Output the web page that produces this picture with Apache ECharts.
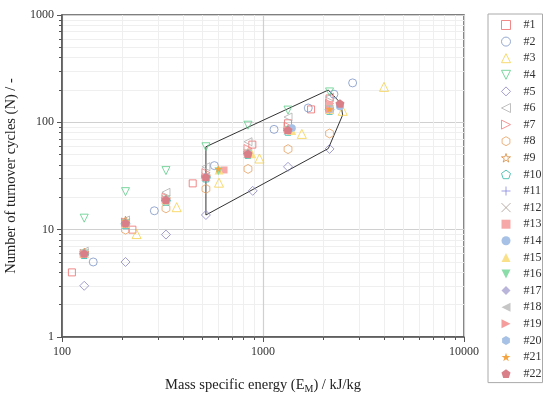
<!DOCTYPE html>
<html><head><meta charset="utf-8">
<script src="https://cdn.jsdelivr.net/npm/echarts@6/dist/echarts.min.js"></script>
<style>html,body{margin:0;padding:0;background:#fff}#c{width:550px;height:395px}</style>
</head><body><div id="c"></div>
<script>
// ---- data ----
const seriesNames = ['#1','#2','#3','#4','#5','#6','#7','#8','#9','#10','#11','#12','#13','#14','#15','#16','#17','#18','#19','#20','#21','#22'];
const s1  = [[112,4],[224,10],[447,27],[885,62],[1332,98],[1734,132],[2143,167]];
const s2  = [[143,5],[288,15],[573,39.5],[1135,86],[1679,136],[2254,183],[2792,233]];
const s3  = [[235,9.1],[372,16.2],[604,27.4],[960,46],[1560,78],[2493,128],[4000,214]];
const s4  = [[129,12.8],[207,22.6],[329,35.5],[520,59.2],[842,94],[1332,130],[2143,192]];
const s5  = [[129,3],[207,5],[329,9],[520,13.7],[889,23],[1332,38.5],[2143,56.5]];
const s6  = [[129,6.3],[207,12.3],[329,22.3],[520,38.6],[842,66],[1332,112],[2143,172]];
const s7  = [[129,6],[207,11.8],[329,20],[520,34],[842,57],[1332,92],[2143,150]];
const s8  = [[129,6],[207,10],[329,15.8],[520,24],[842,36.8],[1332,56.3],[2143,78.8]];
const s9  = [[129,6.1],[207,12.2],[329,19.3],[520,31.5],[842,52],[1332,86],[2143,134]];
const s10 = [[129,5.9],[207,11.2],[329,18.5],[520,30.5],[842,50.5],[1332,83],[2143,130]];
const s11 = [[129,6],[207,11.5],[329,19],[520,31],[842,51.5],[1332,85],[2143,132]];
const s12 = [[129,6],[207,11.6],[329,19.2],[520,31.2],[842,51.3],[1332,84.5],[2143,131]];
const s13 = [[129,6],[207,11.5],[329,19],[640,36],[842,52],[1332,86],[2143,145]];
const s14 = [[129,6],[207,11.3],[329,18.8],[520,31],[842,51],[1390,88],[2415,141]];
const s15 = [[129,6],[207,11.4],[329,19],[604,36],[880,51],[1390,84],[2143,132]];
const s16 = [[129,6],[207,11.5],[329,19],[600,35],[842,51],[1332,85],[2143,132]];
const s17 = [[129,6],[207,11.5],[329,19],[520,31],[842,51],[1332,85],[2143,132]];
const s18 = [[129,6],[207,11.5],[329,19],[520,31],[842,51],[1332,85],[2143,132]];
const s19 = [[129,6],[207,11.5],[329,19],[520,31],[842,51],[1332,85],[2143,132]];
const s20 = [[129,6],[207,11.5],[329,19],[520,31],[842,51],[1390,88],[2415,141]];
const s21 = [[129,6.1],[207,12],[329,19],[600,36.8],[842,52],[1332,85],[2143,133]];
const s22 = [[129,6],[207,11.5],[329,19],[520,31],[842,51],[1332,85],[2415,150]];
const polygon = [[520,59.2],[2113,200],[2440,150],[2490,117],[2113,57],[520,13.7],[520,59.2]];
const xTickValues = [100,1000,10000];
const yTickValues = [1,10,100,1000];
const seriesData = [s1,s2,s3,s4,s5,s6,s7,s8,s9,s10,s11,s12,s13,s14,s15,s16,s17,s18,s19,s20,s21,s22];

// ---- styles ----
const P = {
  down: 'path://M-1,-1L1,-1L0,1Z',
  left: 'path://M-1,0L1,-1L1,1Z',
  right: 'path://M1,0L-1,-1L-1,1Z',
  hex: 'path://M0,-1L0.866,-0.5L0.866,0.5L0,1L-0.866,0.5L-0.866,-0.5Z',
  star: 'path://M0,-1L0.2245,-0.309L0.951,-0.309L0.3633,0.118L0.5878,0.809L0,0.382L-0.5878,0.809L-0.3633,0.118L-0.951,-0.309L-0.2245,-0.309Z',
  pent: 'path://M0,-1L0.951,-0.309L0.588,0.809L-0.588,0.809L-0.951,-0.309Z',
  plus: 'path://M0,-1L0,1M-1,0L1,0',
  cross: 'path://M-1,-1L1,1M-1,1L1,-1'
};
const styleDefs = [
 ['rect', '#ee6b6b', false, 7],
 ['circle', '#7d95c6', false, 8],
 ['triangle', '#f5cf4c', false, 9],
 [P.down, '#5ccc88', false, 8],
 ['diamond', '#8a86c2', false, 9],
 [P.left, '#b0b0b0', false, 8],
 [P.right, '#f47a7a', false, 8],
 [P.hex, '#e8a060', false, 9],
 [P.star, '#d88a3c', false, 9],
 [P.pent, '#2db5a8', false, 9],
 [P.plus, '#8888dd', false, 8],
 [P.cross, '#a89a90', false, 8],
 ['rect', '#f6a8a8', true, 7],
 ['circle', '#a6c1e5', true, 8],
 ['triangle', '#fbe08a', true, 9],
 [P.down, '#8adca8', true, 8],
 ['diamond', '#b9b5da', true, 9],
 [P.left, '#c6c6c6', true, 8],
 [P.right, '#f59c9c', true, 8],
 [P.hex, '#a6c1e5', true, 8],
 [P.star, '#f5a442', true, 8],
 [P.pent, '#d97f88', true, 9]
];
const FONT = 'Liberation Serif';

const scatterSeries = seriesNames.map((n, i) => {
  const [sym, c, filled, sz] = styleDefs[i];
  return {
    name: n, type: 'scatter', data: seriesData[i],
    symbol: sym, symbolSize: sz, symbolKeepAspect: true,
    itemStyle: filled ? {color: c, opacity: 1, borderWidth: 0} : {color: 'rgba(255,255,255,0)', borderColor: c, borderWidth: 1},
    emphasis: {disabled: true}, z: 3
  };
});

const chart = echarts.init(document.getElementById('c'), null, {renderer: 'canvas'});
chart.setOption({
  animation: false,
  backgroundColor: '#fff',
  grid: {left: 62, right: 86, top: 15, bottom: 58, show: true, borderColor: '#555', borderWidth: 1.5, backgroundColor: 'transparent', outerBoundsMode: 'none', containLabel: false},
  legend: {
    orient: 'vertical', left: 488, top: 14,
    itemWidth: 9, itemHeight: 9, itemGap: 4.6,
    padding: [5, 1, 3, 13],
    borderColor: '#aaa', borderWidth: 1,
    itemStyle: {borderWidth: 1},
    textStyle: {fontFamily: FONT, fontSize: 12, color: '#333', lineHeight: 12, padding: [0, 0, 0, 8]},
    data: seriesNames
  },
  xAxis: {
    type: 'log', logBase: 10, min: xTickValues[0], max: xTickValues[xTickValues.length - 1],
    name: 'Mass specific energy (E{s|M}) / kJ/kg', nameLocation: 'middle', nameGap: 39,
    nameTextStyle: {fontFamily: FONT, fontSize: 14.5, color: '#222', rich: {s: {fontFamily: FONT, fontSize: 10, color: '#222', padding: [8, 0, 0, 0]}}},
    axisLine: {show: true, lineStyle: {color: '#555', width: 1.5}},
    axisTick: {show: true, inside: false, length: 5, lineStyle: {color: '#555'}},
    minorTick: {show: true, splitNumber: 9, length: 3, lineStyle: {color: '#555'}},
    axisLabel: {fontFamily: FONT, fontSize: 12, color: '#333', margin: 9, formatter: v => String(v)},
    splitLine: {show: true, lineStyle: {color: '#d0d0d0', width: 1.2}},
    minorSplitLine: {show: true, lineStyle: {color: '#efefef'}}
  },
  yAxis: {
    type: 'log', logBase: 10, min: yTickValues[0], max: yTickValues[yTickValues.length - 1],
    name: 'Number of turnover cycles (N) / -', nameLocation: 'middle', nameGap: 38, nameRotate: 90,
    nameTextStyle: {fontFamily: FONT, fontSize: 14.5, color: '#222'},
    axisLine: {show: true, lineStyle: {color: '#555', width: 1.5}},
    axisTick: {show: true, inside: false, length: 5, lineStyle: {color: '#555'}},
    minorTick: {show: true, splitNumber: 9, length: 3, lineStyle: {color: '#555'}},
    axisLabel: {fontFamily: FONT, fontSize: 12, color: '#333', margin: 8, formatter: v => String(v)},
    splitLine: {show: true, lineStyle: {color: '#d0d0d0', width: 1.2}},
    minorSplitLine: {show: true, lineStyle: {color: '#efefef'}}
  },
  series: [{
    name: 'polygon', type: 'line', data: polygon, symbol: 'none', silent: true,
    lineStyle: {color: '#333', width: 1}, z: 2
  }].concat(scatterSeries)
});
</script>
</body></html>
